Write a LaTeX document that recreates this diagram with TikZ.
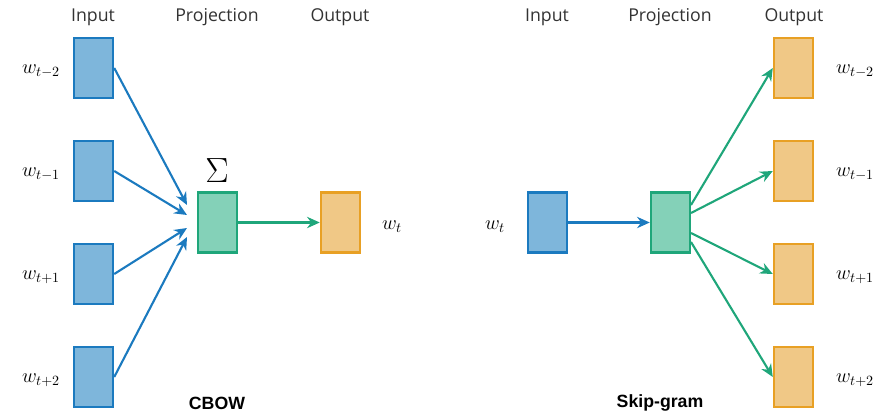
\documentclass[tikz,border=0pt]{standalone}
\usepackage{fontspec}
\setsansfont{Open Sans}
\newfontfamily\arialfont{Liberation Sans}
\usetikzlibrary{arrows.meta,calc}
\definecolor{inblue}{HTML}{7EB6DB}
\definecolor{inblueline}{HTML}{1B7ABF}
\definecolor{projgreen}{HTML}{84D1B8}
\definecolor{projgreenline}{HTML}{1FA67A}
\definecolor{outorange}{HTML}{F0C886}
\definecolor{outorangeline}{HTML}{E8A024}
\definecolor{headgray}{HTML}{333333}

\begin{document}
\begin{tikzpicture}[x=0.025cm,y=-0.025cm,
  unit/.style={draw,line width=1.6pt,minimum width=0.98cm,minimum height=1.5cm,inner sep=0pt},
  inunit/.style={unit,fill=inblue,draw=inblueline},
  projunit/.style={unit,fill=projgreen,draw=projgreenline},
  outunit/.style={unit,fill=outorange,draw=outorangeline},
  head/.style={font=\sffamily\fontsize{12.6}{15}\selectfont,text=headgray},
  word/.style={font=\Large},
  title/.style={font=\arialfont\bfseries\fontsize{12.6}{15}\selectfont},
  link/.style={line width=1.5pt,-{Stealth[length=9pt,width=8pt]}}]
  \useasboundingbox (0,0) rectangle (875,414);

  % CBOW: four context words summed into one projection
  \node[head] (hin) at (93,17) {Input};
  \node[head] (hproj) at (217,17) {Projection};
  \node[head] (hout) at (340,17) {Output};

  \node[inunit] (c1) at (93.5,68) {};
  \node[inunit] (c2) at (93.5,171) {};
  \node[inunit] (c3) at (93.5,274) {};
  \node[inunit] (c4) at (93.5,377) {};
  \node[word] (lc1) at (41,71) {$w_{t-2}$};
  \node[word] (lc2) at (41,174) {$w_{t-1}$};
  \node[word] (lc3) at (41,277) {$w_{t+1}$};
  \node[word] (lc4) at (41,380) {$w_{t+2}$};

  \node[projunit] (cp) at (217.5,222.5) {};
  \node[font=\fontsize{29}{32}\selectfont] (sum) at (217,171) {$\Sigma$};
  \node[outunit] (co) at (340.5,222.5) {};
  \node[word] (lco) at (392,227) {$w_t$};

  \coordinate (e1) at (187,205);
  \coordinate (e2) at (187,215);
  \coordinate (e3) at (187,228);
  \coordinate (e4) at (187,237);
  \draw[link,inblueline] (c1.east) -- (e1);
  \draw[link,inblueline] (c2.east) -- (e2);
  \draw[link,inblueline] (c3.east) -- (e3);
  \draw[link,inblueline] (c4.east) -- (e4);
  \draw[link,projgreenline] (cp.east) -- (co.west);

  \node[title] (cbow) at (217,403) {CBOW};

  % Skip-gram: one word predicts its context
  \node[head] (sin) at (547,17) {Input};
  \node[head] (sproj) at (670,17) {Projection};
  \node[head] (sout) at (794,17) {Output};

  \node[word] (lsi) at (495,227) {$w_t$};
  \node[inunit] (si) at (547.5,222.5) {};
  \node[projunit] (sp) at (670.5,222.5) {};
  \draw[link,inblueline] (si.east) -- (sp.west);

  \node[outunit] (s1) at (793.5,68) {};
  \node[outunit] (s2) at (793.5,171) {};
  \node[outunit] (s3) at (793.5,274) {};
  \node[outunit] (s4) at (793.5,377) {};
  \node[word] (ls1) at (855,71) {$w_{t-2}$};
  \node[word] (ls2) at (855,174) {$w_{t-1}$};
  \node[word] (ls3) at (855,277) {$w_{t+1}$};
  \node[word] (ls4) at (855,380) {$w_{t+2}$};

  \coordinate (b1) at (691,205);
  \coordinate (b2) at (691,213);
  \coordinate (b3) at (691,233);
  \coordinate (b4) at (691,242);
  \draw[link,projgreenline] (b1) -- (s1.west);
  \draw[link,projgreenline] (b2) -- (s2.west);
  \draw[link,projgreenline] (b3) -- (s3.west);
  \draw[link,projgreenline] (b4) -- (s4.west);

  \node[title] (skip) at (660,403) {Skip-gram};
\end{tikzpicture}
\end{document}
